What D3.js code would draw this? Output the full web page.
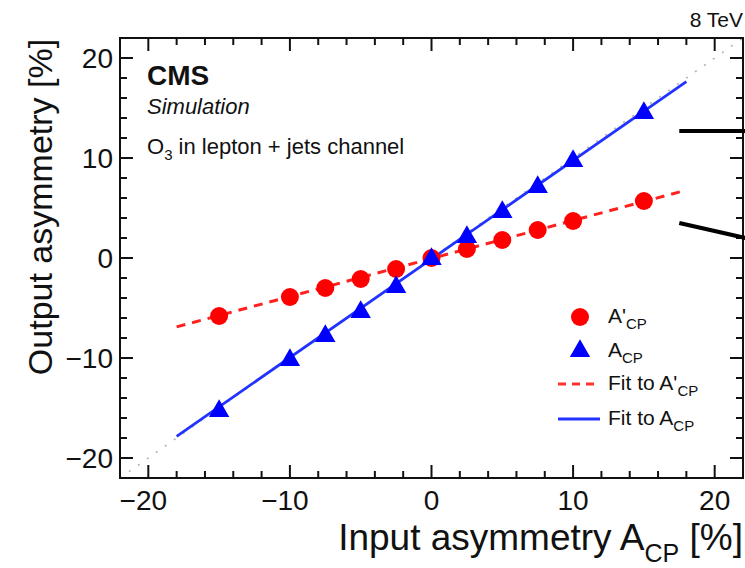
<!DOCTYPE html>
<html>
<head>
<meta charset="utf-8">
<script src="https://cdn.jsdelivr.net/npm/d3@7"></script>
<style>
  html, body { margin: 0; padding: 0; background: #fff; }
  svg { display: block; font-family: "Liberation Sans", Arial, Helvetica, sans-serif; }
</style>
</head>
<body>
<svg id="chart" width="745" height="568"></svg>
<script>
// Input asymmetry points (%)
const inputAsym = [-15, -10, -7.5, -5, -2.5, 0, 2.5, 5, 7.5, 10, 15];
// Output asymmetry for A'_CP (red circles)
const outPrime = [-5.8, -3.9, -3.0, -2.1, -1.1, 0.0, 0.9, 1.8, 2.8, 3.7, 5.7];
// Output asymmetry for A_CP (blue triangles)
const outACP = [-15.2, -10.1, -7.7, -5.3, -2.8, 0.0, 2.2, 4.7, 7.2, 9.8, 14.6];
// Linear fits: [slope, intercept], drawn over the fit range
const fitPrime = [0.38, -0.05];
const fitACP = [0.985, -0.1];
const fitRange = [-18, 18];
// Axis range and ticks
const axisDomain = [-22, 22];
const majorTicks = [-20, -10, 0, 10, 20];
const minorTicks = d3.range(-22, 23, 2);
// Pointer lines leaving the frame on the right (data units)
const pointers = [
  [[17.5, 12.7], [22.5, 12.7]],
  [[17.5, 3.5], [22.5, 1.9]]
];

const svg = d3.select("#chart");
const L = 120, R = 743, T = 38, B = 478;
const x = d3.scaleLinear().domain(axisDomain).range([L, R]);
const y = d3.scaleLinear().domain(axisDomain).range([B, T]);

const RED = "#ff0000", BLUE = "#0000ff";

// Diagonal reference y = x
svg.append("line")
  .attr("x1", x(axisDomain[0])).attr("y1", y(axisDomain[0]))
  .attr("x2", x(axisDomain[1])).attr("y2", y(axisDomain[1]))
  .attr("stroke", "#b0b0b0").attr("stroke-width", 1.5)
  .attr("stroke-dasharray", "2,9");

// Frame
svg.append("rect")
  .attr("x", L).attr("y", T).attr("width", R - L).attr("height", B - T)
  .attr("fill", "none").attr("stroke", "#111").attr("stroke-width", 2);

// Ticks on all four sides, pointing inward
const tickG = svg.append("g").attr("stroke", "#111").attr("stroke-width", 2);
minorTicks.forEach(v => {
  const len = majorTicks.includes(v) ? 13 : 7;
  if (v <= axisDomain[0] || v >= axisDomain[1]) return;
  tickG.append("line").attr("x1", x(v)).attr("x2", x(v)).attr("y1", B).attr("y2", B - len);
  tickG.append("line").attr("x1", x(v)).attr("x2", x(v)).attr("y1", T).attr("y2", T + len);
  tickG.append("line").attr("y1", y(v)).attr("y2", y(v)).attr("x1", L).attr("x2", L + len);
  tickG.append("line").attr("y1", y(v)).attr("y2", y(v)).attr("x1", R).attr("x2", R - len);
});

// Tick labels
const fmt = v => (v < 0 ? "\u2212" + Math.abs(v) : String(v));
svg.append("g").selectAll("text").data(majorTicks).join("text")
  .attr("x", d => x(d) + (d < 0 ? -5 : 0)).attr("y", B + 32)
  .attr("text-anchor", "middle").attr("font-size", 28).attr("fill", "#111")
  .text(fmt);
svg.append("g").selectAll("text").data(majorTicks).join("text")
  .attr("x", L - 7).attr("y", d => y(d) + 10)
  .attr("text-anchor", "end").attr("font-size", 28).attr("fill", "#111")
  .text(fmt);

// Axis titles
svg.append("text")
  .attr("transform", `translate(52,207) rotate(-90)`)
  .attr("text-anchor", "middle").attr("font-size", 34).attr("fill", "#111")
  .text("Output asymmetry [%]");
const xt = svg.append("text")
  .attr("x", 743).attr("y", 550).attr("text-anchor", "end")
  .attr("font-size", 37).attr("fill", "#111");
xt.append("tspan").text("Input asymmetry A");
xt.append("tspan").attr("font-size", 25).attr("dy", 12).text("CP");
xt.append("tspan").attr("dy", -12).text(" [%]");

// Fit lines
const fitLine = f => fitRange.map(v => [v, f[0] * v + f[1]]);
const line = d3.line().x(d => x(d[0])).y(d => y(d[1]));
svg.append("path").datum(fitLine(fitPrime)).attr("d", line)
  .attr("fill", "none").attr("stroke", "#ff2020").attr("stroke-width", 3)
  .attr("stroke-dasharray", "9,7");
svg.append("path").datum(fitLine(fitACP)).attr("d", line)
  .attr("fill", "none").attr("stroke", "#2233ff").attr("stroke-width", 2.8);

// Markers
const tri = d3.symbol().type(d3.symbolTriangle).size(180);
svg.append("g").selectAll("circle").data(inputAsym).join("circle")
  .attr("cx", d => x(d)).attr("cy", (d, i) => y(outPrime[i]))
  .attr("r", 9).attr("fill", RED);
svg.append("g").selectAll("path").data(inputAsym).join("path")
  .attr("d", tri)
  .attr("transform", (d, i) => `translate(${x(d)},${y(outACP[i]) + 1})`)
  .attr("fill", BLUE);

// Labels inside the frame
svg.append("text").attr("x", 147).attr("y", 85).attr("font-size", 28)
  .attr("font-weight", "bold").attr("fill", "#111").text("CMS");
svg.append("text").attr("x", 147).attr("y", 114).attr("font-size", 22)
  .attr("font-style", "italic").attr("fill", "#111").text("Simulation");
const ot = svg.append("text").attr("x", 147).attr("y", 154).attr("font-size", 22).attr("fill", "#111");
ot.append("tspan").text("O");
ot.append("tspan").attr("font-size", 15).attr("dy", 6).text("3");
ot.append("tspan").attr("dy", -6).text(" in lepton + jets channel");

svg.append("text").attr("x", 743).attr("y", 27).attr("text-anchor", "end")
  .attr("font-size", 21).attr("fill", "#111").text("8 TeV");

// Legend
const lg = svg.append("g");
const legendRows = [
  { y: 317, kind: "circle", label: "A'", sub: "CP" },
  { y: 351, kind: "triangle", label: "A", sub: "CP" },
  { y: 384, kind: "dash", label: "Fit to A'", sub: "CP" },
  { y: 419, kind: "solid", label: "Fit to A", sub: "CP" }
];
legendRows.forEach(r => {
  if (r.kind === "circle") lg.append("circle").attr("cx", 580).attr("cy", r.y).attr("r", 9).attr("fill", RED);
  if (r.kind === "triangle") lg.append("path").attr("d", tri).attr("transform", `translate(580,${r.y})`).attr("fill", BLUE);
  if (r.kind === "dash") lg.append("line").attr("x1", 558).attr("x2", 600).attr("y1", r.y).attr("y2", r.y)
    .attr("stroke", "#ff3030").attr("stroke-width", 3).attr("stroke-dasharray", "8,6");
  if (r.kind === "solid") lg.append("line").attr("x1", 558).attr("x2", 600).attr("y1", r.y).attr("y2", r.y)
    .attr("stroke", "#2233ff").attr("stroke-width", 2.8);
  const t = lg.append("text").attr("x", 608).attr("y", r.y + 6).attr("font-size", 21).attr("fill", "#111");
  t.append("tspan").text(r.label);
  t.append("tspan").attr("font-size", 15).attr("dy", 6).text(r.sub);
});

// Pointer lines
pointers.forEach(p => {
  svg.append("path").datum(p).attr("d", line)
    .attr("stroke", "#000").attr("stroke-width", 4).attr("fill", "none");
});
</script>
</body>
</html>
